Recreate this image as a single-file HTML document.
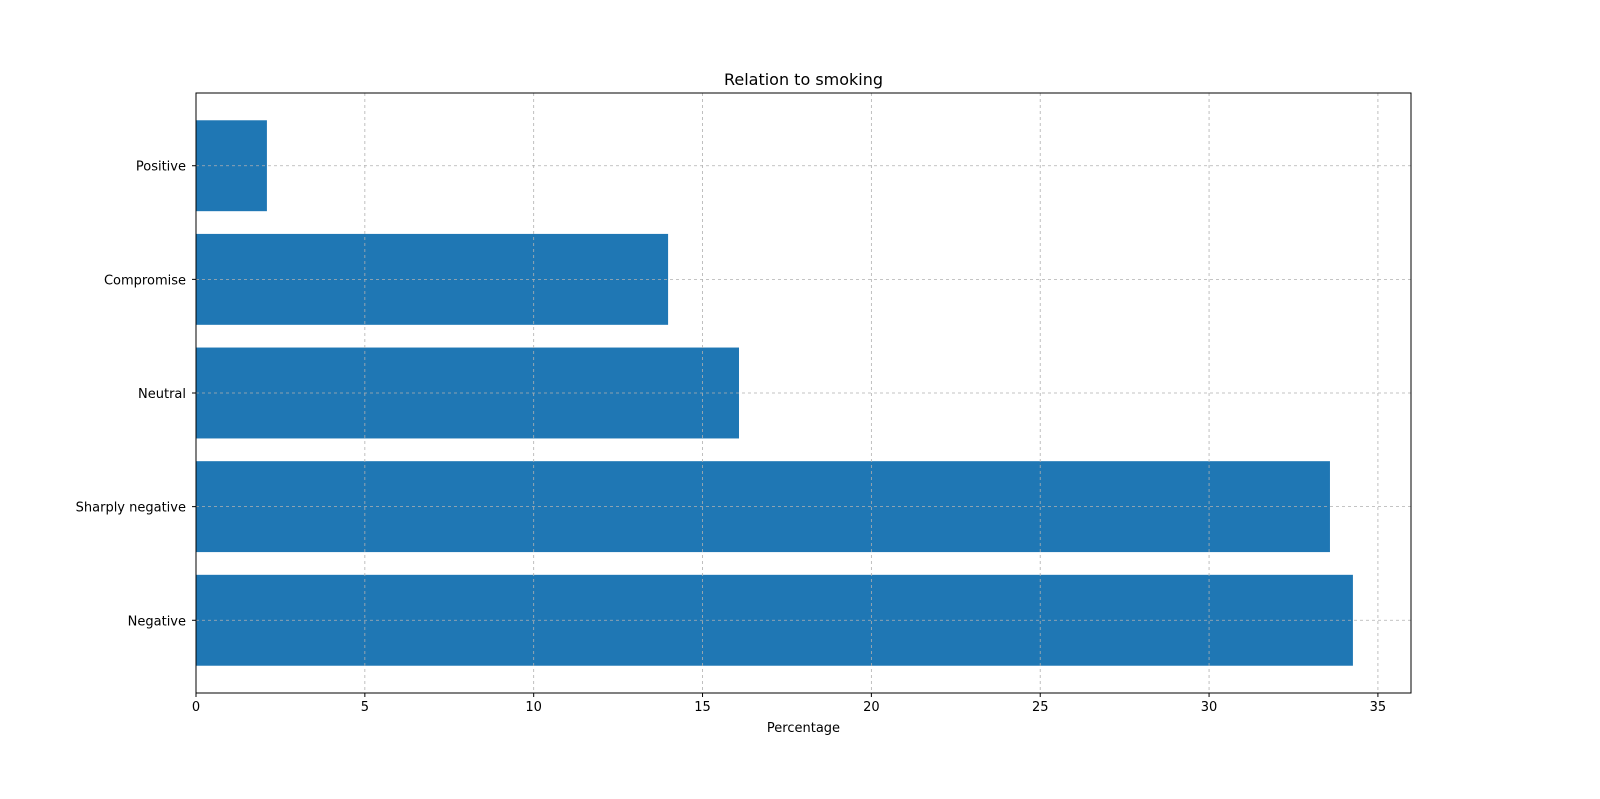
<!DOCTYPE html>
<html><head><meta charset="utf-8"><style>
body{margin:0;background:#fff;}
svg text{font-family:"DejaVu Sans","Liberation Sans",sans-serif;fill:#000;}
</style></head><body>
<svg id="chart" width="1600" height="794"></svg>
<script>
const categories=["Negative","Sharply negative","Neutral","Compromise","Positive"];
const values=[34.26,33.58,16.08,13.98,2.1];
const xTicks=[0,5,10,15,20,25,30,35];
const L=196,R=1411,T=93,B=693,xMax=35.98,yMin=-0.64,yMax=4.64;
const sx=v=>L+(v/xMax)*(R-L);
const sy=i=>B-((i-yMin)/(yMax-yMin))*(B-T);
const svg=document.getElementById('chart');
const NS='http://www.w3.org/2000/svg';
function mk(tag,attrs,parent){const e=document.createElementNS(NS,tag);for(const k in attrs)e.setAttribute(k,attrs[k]);(parent||svg).appendChild(e);return e;}
const bw=(sy(0)-sy(0.8));
categories.forEach((c,i)=>{
  const r=mk('rect',{x:L,y:sy(i)-bw/2,width:sx(values[i])-L,height:bw,fill:'#1f77b4'});
  
  
});
xTicks.forEach(t=>{
  const g=mk('line',{x1:sx(t),x2:sx(t),y1:T,y2:B,stroke:'#b0b0b0','stroke-dasharray':'3,3','stroke-width':0.8});
  
  
  mk('line',{x1:sx(t),x2:sx(t),y1:B,y2:B+4,stroke:'#000'});
  const tx=mk('text',{x:sx(t),y:B+18,'text-anchor':'middle','font-size':13});
  tx.textContent=t;
  
  
});
categories.forEach((c,i)=>{
  const g=mk('line',{x1:L,x2:R,y1:sy(i),y2:sy(i),stroke:'#b0b0b0','stroke-dasharray':'3,3','stroke-width':0.8});
  
  
  mk('line',{x1:L-4,x2:L,y1:sy(i),y2:sy(i),stroke:'#000'});
  const tx=mk('text',{x:L-10,y:sy(i)+5,'text-anchor':'end','font-size':13});
  tx.textContent=c;
  
  
});
const fr=mk('rect',{x:L,y:T,width:R-L,height:B-T,fill:'none',stroke:'#000','stroke-width':1});


const ti=mk('text',{x:(L+R)/2,y:85,'text-anchor':'middle','font-size':16});
ti.textContent='Relation to smoking';


const xl=mk('text',{x:(L+R)/2,y:732,'text-anchor':'middle','font-size':13});
xl.textContent='Percentage';


</script>
</body></html>
